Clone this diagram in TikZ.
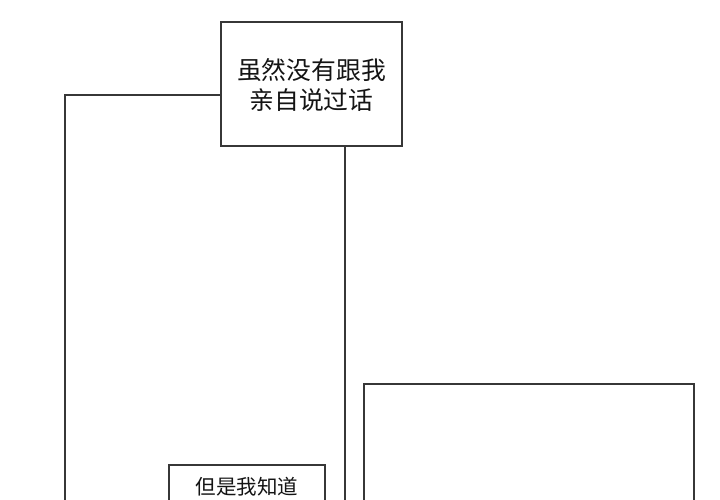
\documentclass[tikz,border=0pt]{standalone}
\usepackage{fontspec}
\newfontfamily\cjkfont{Noto Sans CJK SC}
\usetikzlibrary{positioning}
\definecolor{pnGray}{RGB}{55,55,55}
\definecolor{pnInk}{RGB}{20,20,20}
\tikzset{
    panel/.style={draw=pnGray, line width=1.2pt},
    caption/.style={rectangle, draw=pnGray, line width=1.2pt, fill=white, text=pnInk,
                    align=center, inner sep=0pt},
    bigtext/.style={font=\cjkfont\fontsize{24.8}{30}\selectfont},
    smalltext/.style={font=\cjkfont\fontsize{20.5}{25}\selectfont}
}

\begin{document}
\begin{tikzpicture}[x=1pt, y=-1pt]
  \useasboundingbox (0,0) rectangle (720,500);
  \clip (0,0) rectangle (720,500);

  % Panels (behind the captions)
  \coordinate (leftTL) at (65,95);
  \coordinate (leftTR) at (345,95);
  \draw[panel] (65,510) -- (leftTL) -- (leftTR) -- (345,510);
  \draw[panel] (364,510) -- (364,384) -- (694,384) -- (694,510);

  % Captions
  \node[caption, bigtext, text depth=0pt, minimum width=181pt, minimum height=124pt] (topcap) at (311.5,84)
    {虽然没有跟我\\亲自说过话};
  \node[caption, smalltext, minimum width=156pt, minimum height=44pt] (lowcap) at (247,487)
    {但是我知道};
\end{tikzpicture}
\end{document}
